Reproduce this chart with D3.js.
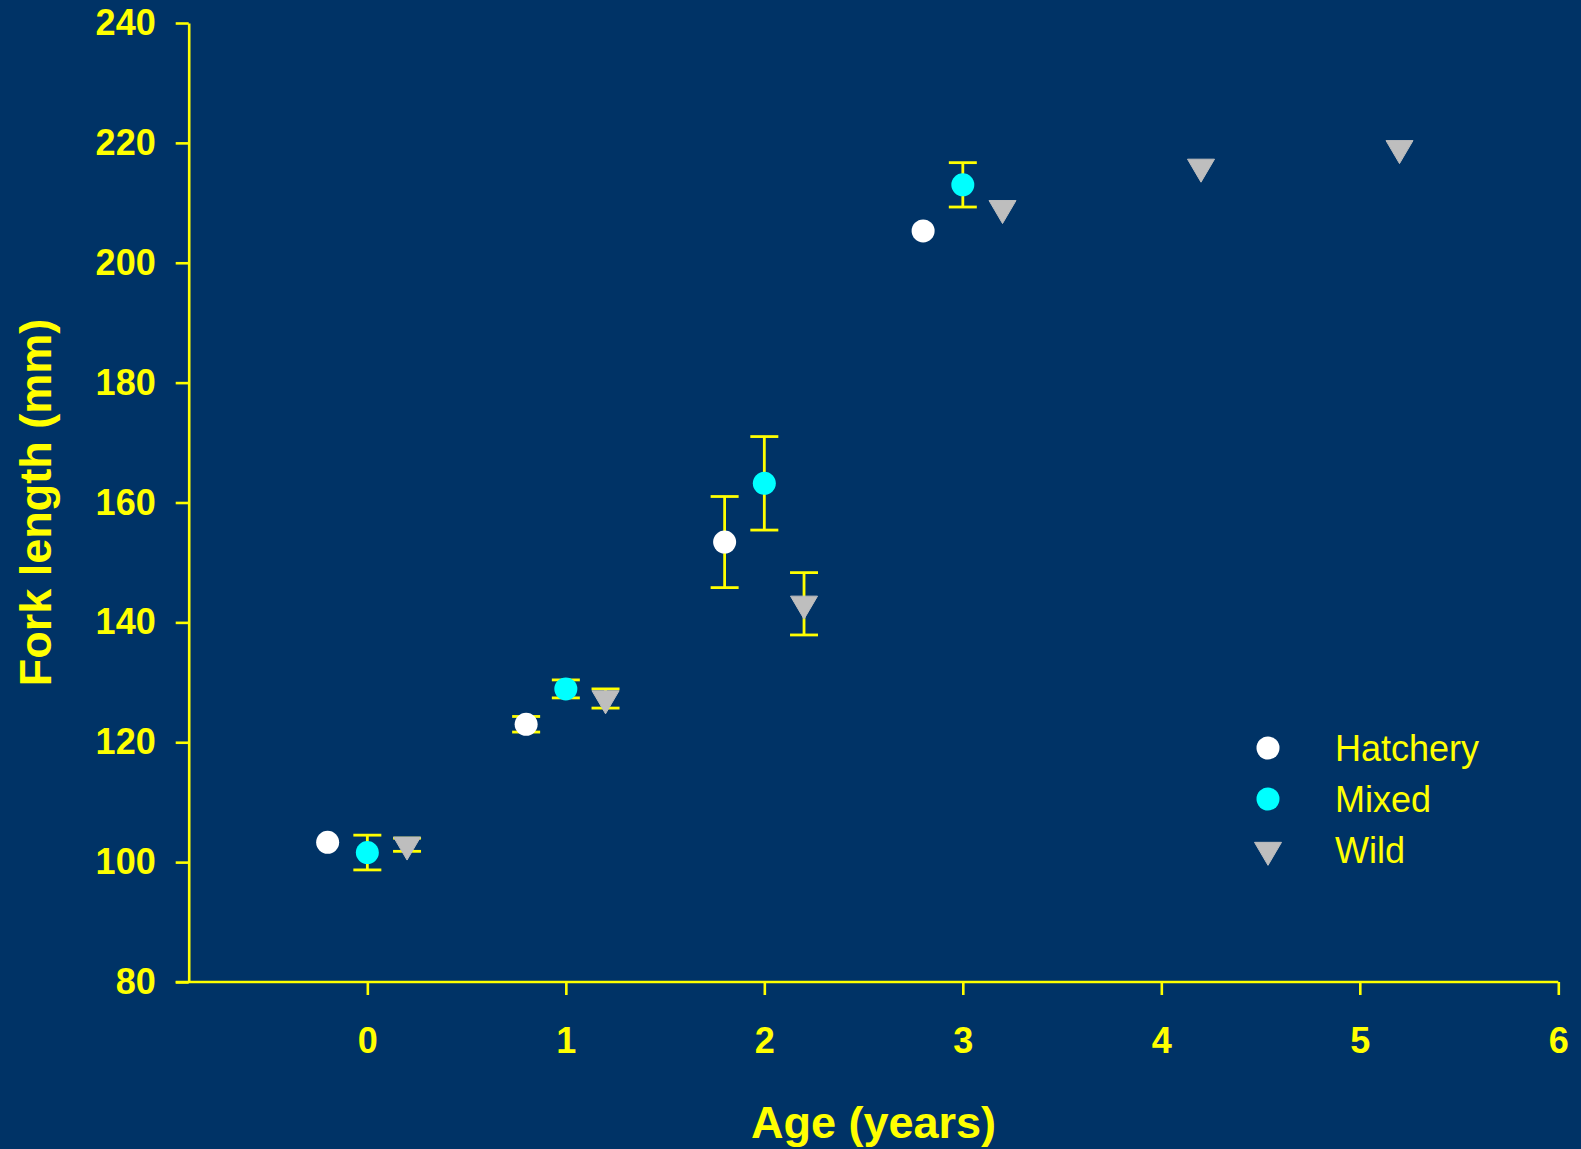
<!DOCTYPE html>
<html>
<head>
<meta charset="utf-8">
<script src="https://cdn.jsdelivr.net/npm/d3@7"></script>
<style>
  html, body { margin: 0; padding: 0; background: #003366; }
  svg { display: block; }
</style>
</head>
<body>
<div id="chart"></div>
<script>
// ── Data ──
var AGES = [0, 1, 2, 3, 4, 5];
var X_TICKS = [0, 1, 2, 3, 4, 5, 6];
var Y_TICKS = [80, 100, 120, 140, 160, 180, 200, 220, 240];
var GROUPS = ['Hatchery', 'Mixed', 'Wild'];
var GROUP_OFFSETS = [-0.2, 0, 0.2];

// mean fork length (mm) per age, null = no fish
var HATCHERY_MEAN = [103.3, 123.0, 153.4, 205.3, null, null];
var HATCHERY_ERR  = [null, 1.3, 7.6, null, null, null];
var MIXED_MEAN    = [101.6, 128.9, 163.2, 213.0, null, null];
var MIXED_ERR     = [2.9, 1.5, 7.8, 3.7, null, null];
var WILD_MEAN     = [102.9, 127.3, 143.1, 209.1, 216.0, 219.1];
var WILD_ERR      = [1.1, 1.6, 5.2, null, null, null];

(function () {
  'use strict';

  // ── Constants ──
  var WIDTH = 1581;
  var HEIGHT = 1149;
  var BG = '#003366';
  var YELLOW = '#ffff00';
  var COLORS = ['#ffffff', '#00ffff', '#bebebe'];
  var FONT = '"Liberation Sans", Arial, sans-serif';
  var PLOT = { left: 188.7, right: 1558.3, top: 23, bottom: 982 };
  var TICK_LEN = 13;
  var AXIS_STROKE = 2.6;
  var CIRCLE_R = 11.5;
  var TRI_W = 27;
  var TRI_H = 23;
  var CAP_HALF = 14;

  var means = [HATCHERY_MEAN, MIXED_MEAN, WILD_MEAN];
  var errs = [HATCHERY_ERR, MIXED_ERR, WILD_ERR];

  // flatten into points
  var points = [];
  GROUPS.forEach(function (g, gi) {
    AGES.forEach(function (age, ai) {
      if (means[gi][ai] == null) return;
      points.push({
        group: gi,
        x: age + GROUP_OFFSETS[gi],
        y: means[gi][ai],
        err: errs[gi][ai]
      });
    });
  });

  var svg = d3.select('#chart').append('svg')
    .attr('width', WIDTH)
    .attr('height', HEIGHT);

  svg.append('rect')
    .attr('width', WIDTH)
    .attr('height', HEIGHT)
    .attr('fill', BG);

  var xScale = d3.scaleLinear().domain([-0.9, 6]).range([PLOT.left, PLOT.right]);
  var yScale = d3.scaleLinear().domain([80, 240]).range([PLOT.bottom, PLOT.top]);

  // triangle pointing down, centred on its centroid
  function triPath(w, h) {
    return 'M' + (-w / 2) + ',' + (-h / 3) +
      'L' + (w / 2) + ',' + (-h / 3) +
      'L0,' + (2 * h / 3) + 'Z';
  }

  function drawMarker(sel, gi) {
    if (gi === 2) {
      sel.append('path')
        .attr('d', triPath(TRI_W, TRI_H))
        .attr('fill', COLORS[gi])
        .attr('stroke', COLORS[gi])
        .attr('stroke-width', 1)
        .attr('stroke-linejoin', 'round');
    } else {
      sel.append('circle')
        .attr('r', CIRCLE_R)
        .attr('fill', COLORS[gi]);
    }
  }

  // ── Axes ──
  var xAxis = d3.axisBottom(xScale)
    .tickValues(X_TICKS)
    .tickSize(TICK_LEN)
    .tickSizeOuter(0)
    .tickPadding(32)
    .tickFormat(d3.format('d'));

  var xG = svg.append('g')
    .attr('transform', 'translate(0,' + PLOT.bottom + ')')
    .call(xAxis);

  var yAxis = d3.axisLeft(yScale)
    .tickValues(Y_TICKS)
    .tickSize(TICK_LEN)
    .tickSizeOuter(0)
    .tickPadding(20)
    .tickFormat(d3.format('d'));

  var yG = svg.append('g')
    .attr('transform', 'translate(' + PLOT.left + ',0)')
    .call(yAxis);

  [xG, yG].forEach(function (ax) {
    ax.select('.domain')
      .attr('stroke', YELLOW)
      .attr('stroke-width', AXIS_STROKE);
    ax.selectAll('.tick line')
      .attr('stroke', YELLOW)
      .attr('stroke-width', AXIS_STROKE);
    ax.selectAll('.tick text')
      .attr('fill', YELLOW)
      .attr('font-family', FONT)
      .attr('font-weight', 'bold')
      .attr('font-size', '36px');
  });

  // x axis domain starts at the y axis; extend to meet the 80 tick like the original
  xG.select('.domain').attr('d', 'M' + (PLOT.left - TICK_LEN) + ',0H' + PLOT.right);
  xG.selectAll('.tick text').attr('dy', '0.71em');

  // ── Axis titles ──
  svg.append('text')
    .attr('x', (PLOT.left + PLOT.right) / 2)
    .attr('y', 1138)
    .attr('text-anchor', 'middle')
    .attr('fill', YELLOW)
    .attr('font-family', FONT)
    .attr('font-weight', 'bold')
    .attr('font-size', '45px')
    .text('Age (years)');

  svg.append('text')
    .attr('transform', 'translate(51,' + ((PLOT.top + PLOT.bottom) / 2) + ') rotate(-90)')
    .attr('text-anchor', 'middle')
    .attr('fill', YELLOW)
    .attr('font-family', FONT)
    .attr('font-weight', 'bold')
    .attr('font-size', '45px')
    .text('Fork length (mm)');

  // ── Error bars ──
  var bars = svg.append('g').selectAll('g')
    .data(points.filter(function (d) { return d.err != null; }))
    .join('g')
    .attr('stroke', YELLOW)
    .attr('stroke-width', 2.8)
    .attr('fill', 'none');

  bars.append('line')
    .attr('x1', function (d) { return xScale(d.x); })
    .attr('x2', function (d) { return xScale(d.x); })
    .attr('y1', function (d) { return yScale(d.y + d.err); })
    .attr('y2', function (d) { return yScale(d.y - d.err); });

  [1, -1].forEach(function (sign) {
    bars.append('line')
      .attr('x1', function (d) { return xScale(d.x) - CAP_HALF; })
      .attr('x2', function (d) { return xScale(d.x) + CAP_HALF; })
      .attr('y1', function (d) { return yScale(d.y + sign * d.err); })
      .attr('y2', function (d) { return yScale(d.y + sign * d.err); });
  });

  // ── Markers ──
  svg.append('g').selectAll('g')
    .data(points)
    .join('g')
    .attr('transform', function (d) {
      return 'translate(' + xScale(d.x) + ',' + yScale(d.y) + ')';
    })
    .each(function (d) { drawMarker(d3.select(this), d.group); });

  // ── Legend ──
  var LEGEND_Y = [748, 799, 850];
  var legend = svg.append('g').selectAll('g')
    .data(GROUPS)
    .join('g')
    .attr('transform', function (d, i) { return 'translate(1268,' + LEGEND_Y[i] + ')'; });

  legend.each(function (d, i) { drawMarker(d3.select(this), i); });

  legend.append('text')
    .attr('x', 67)
    .attr('y', 13)
    .attr('fill', YELLOW)
    .attr('font-family', FONT)
    .attr('font-size', '36px')
    .text(function (d) { return d; });
})();
</script>
</body>
</html>
